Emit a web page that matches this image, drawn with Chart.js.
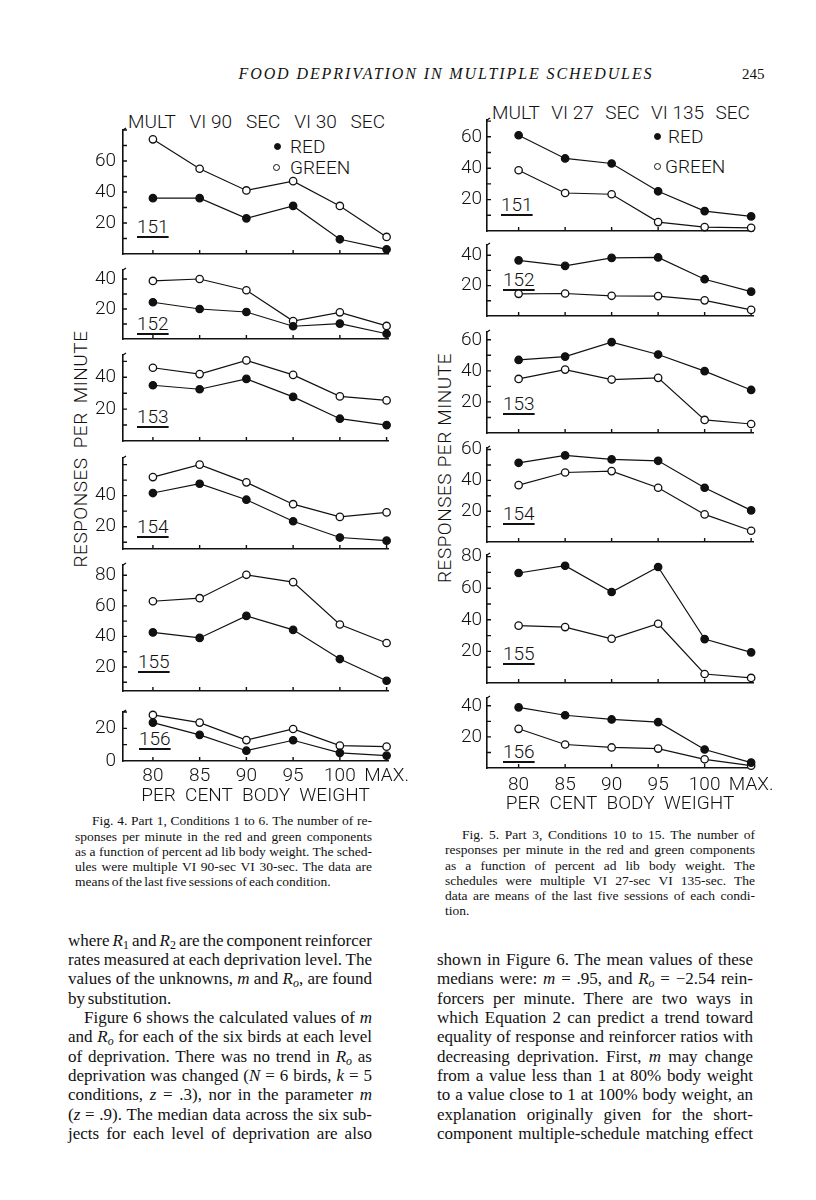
<!DOCTYPE html>
<html>
<head>
<meta charset="utf-8">
<script src="https://cdn.jsdelivr.net/npm/chart.js@4.4.0/dist/chart.umd.min.js"></script>
<style>
  html, body { margin: 0; padding: 0; background: #fff; }
  #page { position: relative; width: 816px; height: 1200px; overflow: hidden; color: #111; }
  .stencil { font-family: Roboto, 'Liberation Sans', sans-serif; font-weight: 300; font-size: 19px; line-height: 20px; color: #111; }
  .abs { position: absolute; white-space: nowrap; }
  .spread { display: flex; justify-content: space-between; }
  .bird { text-decoration: underline; text-underline-offset: 3px; text-decoration-thickness: 1.5px; }
  .dot { position: absolute; width: 7px; height: 7px; border-radius: 50%; border: 1.3px solid #111; box-sizing: border-box; }
  .serif { font-family: 'Liberation Serif', 'Times New Roman', serif; }
  .line { position: absolute; white-space: nowrap; text-align: justify; text-align-last: justify; }
  .line.last { text-align-last: left; }
  .cap { font-size: 13.5px; line-height: 15px; word-spacing: -1px; }
  .cap .line { height: 15px; }
  .body { font-size: 17px; line-height: 19px; word-spacing: -1.5px; }
  .body .line { height: 19px; }
  sub { font-size: 70%; line-height: 0; vertical-align: -0.25em; }
</style>
</head>
<body>
<div id="page">
  <div class="abs serif" style="left:222px;top:65px;width:448px;font-size:16px;font-style:italic;letter-spacing:1.9px;text-align:center;">FOOD DEPRIVATION IN MULTIPLE SCHEDULES</div>
  <div class="abs serif" style="left:742px;top:66px;font-size:15px;">245</div>

  <!-- Fig. 4 labels -->
  <div class="abs stencil spread" style="left:128px;top:112px;width:257px;"><span>MULT</span><span>VI 90</span><span>SEC</span><span>VI 30</span><span>SEC</span></div>
  <div class="dot" style="left:274px;top:143px;background:#111;"></div>
  <div class="abs stencil" style="left:290px;top:137px;">RED</div>
  <div class="dot" style="left:273px;top:164px;background:#fff;"></div>
  <div class="abs stencil" style="left:290px;top:158px;">GREEN</div>
  <div class="abs stencil bird" style="left:137px;top:217px;">151</div>
  <div class="abs stencil bird" style="left:137px;top:314px;">152</div>
  <div class="abs stencil bird" style="left:137px;top:407px;">153</div>
  <div class="abs stencil bird" style="left:137px;top:517px;">154</div>
  <div class="abs stencil bird" style="left:138px;top:652px;">155</div>
  <div class="abs stencil bird" style="left:139px;top:729px;">156</div>
  <div class="abs stencil spread" style="left:-38px;top:439px;width:237px;transform:rotate(-90deg);letter-spacing:0.5px;"><span>RESPONSES</span><span>PER</span><span>MINUTE</span></div>

  <!-- Fig. 5 labels -->
  <div class="abs stencil spread" style="left:492px;top:103px;width:258px;"><span>MULT</span><span>VI 27</span><span>SEC</span><span>VI 135</span><span>SEC</span></div>
  <div class="dot" style="left:654px;top:133px;background:#111;"></div>
  <div class="abs stencil" style="left:668px;top:127px;">RED</div>
  <div class="dot" style="left:654px;top:163px;background:#fff;"></div>
  <div class="abs stencil" style="left:665px;top:157px;">GREEN</div>
  <div class="abs stencil bird" style="left:501px;top:195px;">151</div>
  <div class="abs stencil bird" style="left:503px;top:270px;">152</div>
  <div class="abs stencil bird" style="left:503px;top:394px;">153</div>
  <div class="abs stencil bird" style="left:503px;top:504px;">154</div>
  <div class="abs stencil bird" style="left:503px;top:644px;">155</div>
  <div class="abs stencil bird" style="left:503px;top:742px;">156</div>
  <div class="abs stencil spread" style="left:330px;top:458px;width:230px;transform:rotate(-90deg);letter-spacing:0.5px;"><span>RESPONSES</span><span>PER</span><span>MINUTE</span></div>

  <!-- captions -->
  <div class="serif cap">
    <div class="line" style="left:92px;top:813px;width:280px;">Fig. 4. Part 1, Conditions 1 to 6. The number of re-</div>
    <div class="line" style="left:75px;top:829px;width:297px;">sponses per minute in the red and green components</div>
    <div class="line" style="left:75px;top:844px;width:297px;">as a function of percent ad lib body weight. The sched-</div>
    <div class="line" style="left:75px;top:859px;width:297px;">ules were multiple VI 90-sec VI 30-sec. The data are</div>
    <div class="line last" style="left:75px;top:874px;width:297px;">means of the last five sessions of each condition.</div>

    <div class="line" style="left:462px;top:827px;width:293px;">Fig. 5. Part 3, Conditions 10 to 15. The number of</div>
    <div class="line" style="left:445px;top:842px;width:310px;">responses per minute in the red and green components</div>
    <div class="line" style="left:445px;top:858px;width:310px;">as a function of percent ad lib body weight. The</div>
    <div class="line" style="left:445px;top:873px;width:310px;">schedules were multiple VI 27-sec VI 135-sec. The</div>
    <div class="line" style="left:445px;top:888px;width:310px;">data are means of the last five sessions of each condi-</div>
    <div class="line last" style="left:445px;top:903px;width:310px;">tion.</div>
  </div>

  <!-- body text -->
  <div class="serif body">
    <div class="line" style="left:68px;top:931px;width:304px;">where <i>R</i><sub>1</sub> and <i>R</i><sub>2</sub> are the component reinforcer</div>
    <div class="line" style="left:68px;top:950px;width:304px;">rates measured at each deprivation level. The</div>
    <div class="line" style="left:68px;top:969px;width:304px;">values of the unknowns, <i>m</i> and <i>R<sub>o</sub></i>, are found</div>
    <div class="line last" style="left:68px;top:989px;width:304px;">by substitution.</div>
    <div class="line" style="left:84px;top:1008px;width:288px;">Figure 6 shows the calculated values of <i>m</i></div>
    <div class="line" style="left:68px;top:1027px;width:304px;">and <i>R<sub>o</sub></i> for each of the six birds at each level</div>
    <div class="line" style="left:68px;top:1047px;width:304px;">of deprivation. There was no trend in <i>R<sub>o</sub></i> as</div>
    <div class="line" style="left:68px;top:1066px;width:304px;">deprivation was changed (<i>N</i> = 6 birds, <i>k</i> = 5</div>
    <div class="line" style="left:68px;top:1085px;width:304px;">conditions, <i>z</i> = .3), nor in the parameter <i>m</i></div>
    <div class="line" style="left:68px;top:1105px;width:304px;">(<i>z</i> = .9). The median data across the six sub-</div>
    <div class="line" style="left:68px;top:1124px;width:304px;">jects for each level of deprivation are also</div>

    <div class="line" style="left:437px;top:950px;width:316px;">shown in Figure 6. The mean values of these</div>
    <div class="line" style="left:437px;top:969px;width:316px;">medians were: <i>m</i> = .95, and <i>R<sub>o</sub></i> = &minus;2.54 rein-</div>
    <div class="line" style="left:437px;top:989px;width:316px;">forcers per minute. There are two ways in</div>
    <div class="line" style="left:437px;top:1008px;width:316px;">which Equation 2 can predict a trend toward</div>
    <div class="line" style="left:437px;top:1027px;width:316px;">equality of response and reinforcer ratios with</div>
    <div class="line" style="left:437px;top:1047px;width:316px;">decreasing deprivation. First, <i>m</i> may change</div>
    <div class="line" style="left:437px;top:1066px;width:316px;">from a value less than 1 at 80% body weight</div>
    <div class="line" style="left:437px;top:1085px;width:316px;">to a value close to 1 at 100% body weight, an</div>
    <div class="line" style="left:437px;top:1105px;width:316px;">explanation originally given for the short-</div>
    <div class="line" style="left:437px;top:1124px;width:316px;">component multiple-schedule matching effect</div>
  </div>
</div>

<script>
// Per cent body weight conditions (x axis)
const weightLabels = ['80', '85', '90', '95', '100', 'MAX.'];

// Fig. 4 - MULT VI 90 SEC VI 30 SEC, responses per minute
const fig4Red151 = [36, 36, 23, 31, 9.5, 3];
const fig4Green151 = [74, 55, 41, 47, 31, 11];
const fig4Red152 = [24.5, 20, 18, 8.5, 10.3, 3.5];
const fig4Green152 = [38.7, 40, 32.5, 12, 17.8, 8.7];
const fig4Red153 = [35, 32.5, 39, 27.7, 14, 10];
const fig4Green153 = [46, 42, 50.6, 41.5, 28, 25.5];
const fig4Red154 = [41.7, 47.7, 37.4, 23.5, 13, 11];
const fig4Green154 = [52, 60, 48.6, 34.5, 26.3, 29.2];
const fig4Red155 = [42.6, 39, 53.4, 44.3, 25.2, 11];
const fig4Green155 = [63, 65, 80.3, 75.5, 47.8, 35.7];
const fig4Red156 = [23.5, 16, 6.3, 12.7, 5, 3.3];
const fig4Green156 = [28.2, 23.5, 12.8, 19.6, 9.4, 8.8];

// Fig. 5 - MULT VI 27 SEC VI 135 SEC
const fig5Red151 = [61, 46.2, 43, 25.3, 12.7, 9.3];
const fig5Green151 = [38.7, 24.2, 23.4, 5.7, 2.5, 2];
const fig5Red152 = [36.6, 33, 38.2, 38.5, 24.2, 16];
const fig5Green152 = [14.6, 14.8, 13.3, 13.1, 10.3, 4];
const fig5Red153 = [47, 49.2, 58.5, 50.5, 39.8, 27.7];
const fig5Green153 = [34.8, 40.8, 34.4, 35.5, 8.4, 5.8];
const fig5Red154 = [51.4, 56.2, 53.6, 52.7, 35.2, 20.5];
const fig5Green154 = [36.9, 45.1, 46, 35.2, 17.9, 7.3];
const fig5Red155 = [69.6, 74.2, 57.6, 73.4, 27.8, 19.4];
const fig5Green155 = [36.3, 35.4, 28, 37.5, 5.7, 3.2];
const fig5Red156 = [39, 33.9, 31.2, 29.5, 11.9, 3.5];
const fig5Green156 = [25.2, 15.1, 13.2, 12.5, 5.6, 1.5];

// y tick labels shown on each panel
const fig4TickLabels = [[20, 40, 60], [20, 40], [20, 40], [20, 40], [20, 40, 60, 80], [0, 20]];
const fig5TickLabels = [[20, 40, 60], [20, 40], [20, 40, 60], [20, 40, 60], [20, 40, 60, 80], [20, 40]];

const STENCIL = "Roboto, 'Liberation Sans', sans-serif";
const INK = '#111';

// layout of the two figures (axis pixel positions on the page)
const fig4 = {
    left: 60, axisWidth: 63, width: 360, padRight: 32,
    xMin: -0.64, xMax: 5.03, yTickPad: 7, xTickPad: 4, xAxisHeight: 47,
    panels: [
        { top: 130, bottom: 254, min: 0, max: 80, red: fig4Red151, green: fig4Green151 },
        { top: 270, bottom: 339, min: 0, max: 46, red: fig4Red152, green: fig4Green152 },
        { top: 355, bottom: 441, min: 0, max: 54, red: fig4Red153, green: fig4Green153 },
        { top: 458, bottom: 549, min: 5.6, max: 64.3, red: fig4Red154, green: fig4Green154 },
        { top: 565, bottom: 691, min: 4.3, max: 86.7, red: fig4Red155, green: fig4Green155 },
        { top: 712, bottom: 761, min: 0, max: 30, red: fig4Red156, green: fig4Green156 }
    ],
    tickLabels: fig4TickLabels
};

const fig5 = {
    left: 430, axisWidth: 57, width: 360, padRight: 37,
    xMin: -0.68, xMax: 5.04, yTickPad: 5, xTickPad: 6, xAxisHeight: 48,
    panels: [
        { top: 120, bottom: 231, min: 0, max: 70.7, red: fig5Red151, green: fig5Green151 },
        { top: 245, bottom: 316, min: 0, max: 46.7, red: fig5Red152, green: fig5Green152 },
        { top: 332, bottom: 433, min: 0, max: 65, red: fig5Red153, green: fig5Green153 },
        { top: 448, bottom: 542, min: 0, max: 61, red: fig5Red154, green: fig5Green154 },
        { top: 555, bottom: 683, min: 0, max: 81, red: fig5Red155, green: fig5Green155 },
        { top: 698, bottom: 768, min: 0, max: 45, red: fig5Red156, green: fig5Green156 }
    ],
    tickLabels: fig5TickLabels
};

// small inward tick marks, like the hand-drawn originals
const innerTicks = {
    id: 'innerTicks',
    beforeDatasetsDraw(chart) {
        const { ctx, chartArea, scales: { x, y } } = chart;
        ctx.save();
        ctx.strokeStyle = INK;
        ctx.lineWidth = 1.4;
        ctx.beginPath();
        for (let v = Math.floor(y.min / 10) * 10 + 10; v <= y.max + 0.01; v += 10) {
            const py = y.getPixelForValue(v);
            ctx.moveTo(chartArea.left, py);
            ctx.lineTo(chartArea.left + 4, py);
        }
        weightLabels.forEach((_, i) => {
            const px = x.getPixelForValue(i);
            ctx.moveTo(px, chartArea.bottom);
            ctx.lineTo(px, chartArea.bottom - 4);
        });
        ctx.moveTo(chartArea.left, chartArea.top);
        ctx.lineTo(chartArea.left + 3, chartArea.top - 2);
        ctx.stroke();
        ctx.restore();
    }
};

function series(values, fill) {
    return {
        data: values.map((v, i) => ({ x: i, y: v })),
        borderColor: INK,
        borderWidth: 1.2,
        pointRadius: 3.7,
        pointBorderWidth: 1.3,
        pointBorderColor: INK,
        pointBackgroundColor: fill,
        tension: 0,
        clip: false
    };
}

function makePanel(fig, p, index) {
    const isLast = index === fig.panels.length - 1;
    const padTop = 10;
    const padBottom = isLast ? 2 : 6;
    const xH = isLast ? fig.xAxisHeight : 0;
    const canvas = document.createElement('canvas');
    canvas.width = fig.width;
    canvas.height = padTop + (p.bottom - p.top) + xH + padBottom;
    canvas.style.cssText = `position:absolute;left:${fig.left}px;top:${p.top - padTop}px;`;
    document.getElementById('page').appendChild(canvas);

    const labels = fig.tickLabels[index];
    const font = { family: STENCIL, size: 19, weight: 300 };

    return new Chart(canvas, {
        type: 'line',
        data: {
            datasets: [
                Object.assign({ label: 'RED' }, series(p.red, INK)),
                Object.assign({ label: 'GREEN' }, series(p.green, '#fff'))
            ]
        },
        options: {
            responsive: false,
            animation: false,
            events: [],
            layout: { padding: { top: padTop, bottom: padBottom, left: 0, right: fig.padRight } },
            plugins: { legend: { display: false }, tooltip: { enabled: false } },
            scales: {
                x: {
                    type: 'linear',
                    min: fig.xMin,
                    max: fig.xMax,
                    grid: { display: false, drawTicks: false },
                    border: { color: INK, width: 1.6 },
                    ticks: {
                        display: isLast,
                        autoSkip: false,
                        maxRotation: 0,
                        padding: fig.xTickPad,
                        color: INK,
                        font: font,
                        callback: v => weightLabels[v] !== undefined ? weightLabels[v] : ''
                    },
                    title: {
                        display: isLast,
                        text: 'PER  CENT  BODY  WEIGHT',
                        color: INK,
                        font: font,
                        padding: 0
                    },
                    afterBuildTicks: s => { s.ticks = weightLabels.map((_, i) => ({ value: i })); },
                    afterFit: s => { s.height = xH; s.paddingLeft = 0; s.paddingRight = 0; }
                },
                y: {
                    min: p.min,
                    max: p.max,
                    grid: { display: false, drawTicks: false },
                    border: { color: INK, width: 1.6 },
                    ticks: {
                        padding: fig.yTickPad,
                        color: INK,
                        font: font,
                        callback: v => String(v)
                    },
                    afterBuildTicks: s => { s.ticks = labels.map(v => ({ value: v })); },
                    afterFit: s => { s.width = fig.axisWidth; s.paddingTop = 0; s.paddingBottom = 0; }
                }
            }
        },
        plugins: [innerTicks]
    });
}

fig4.panels.forEach((p, i) => makePanel(fig4, p, i));
fig5.panels.forEach((p, i) => makePanel(fig5, p, i));
</script>
</body>
</html>
